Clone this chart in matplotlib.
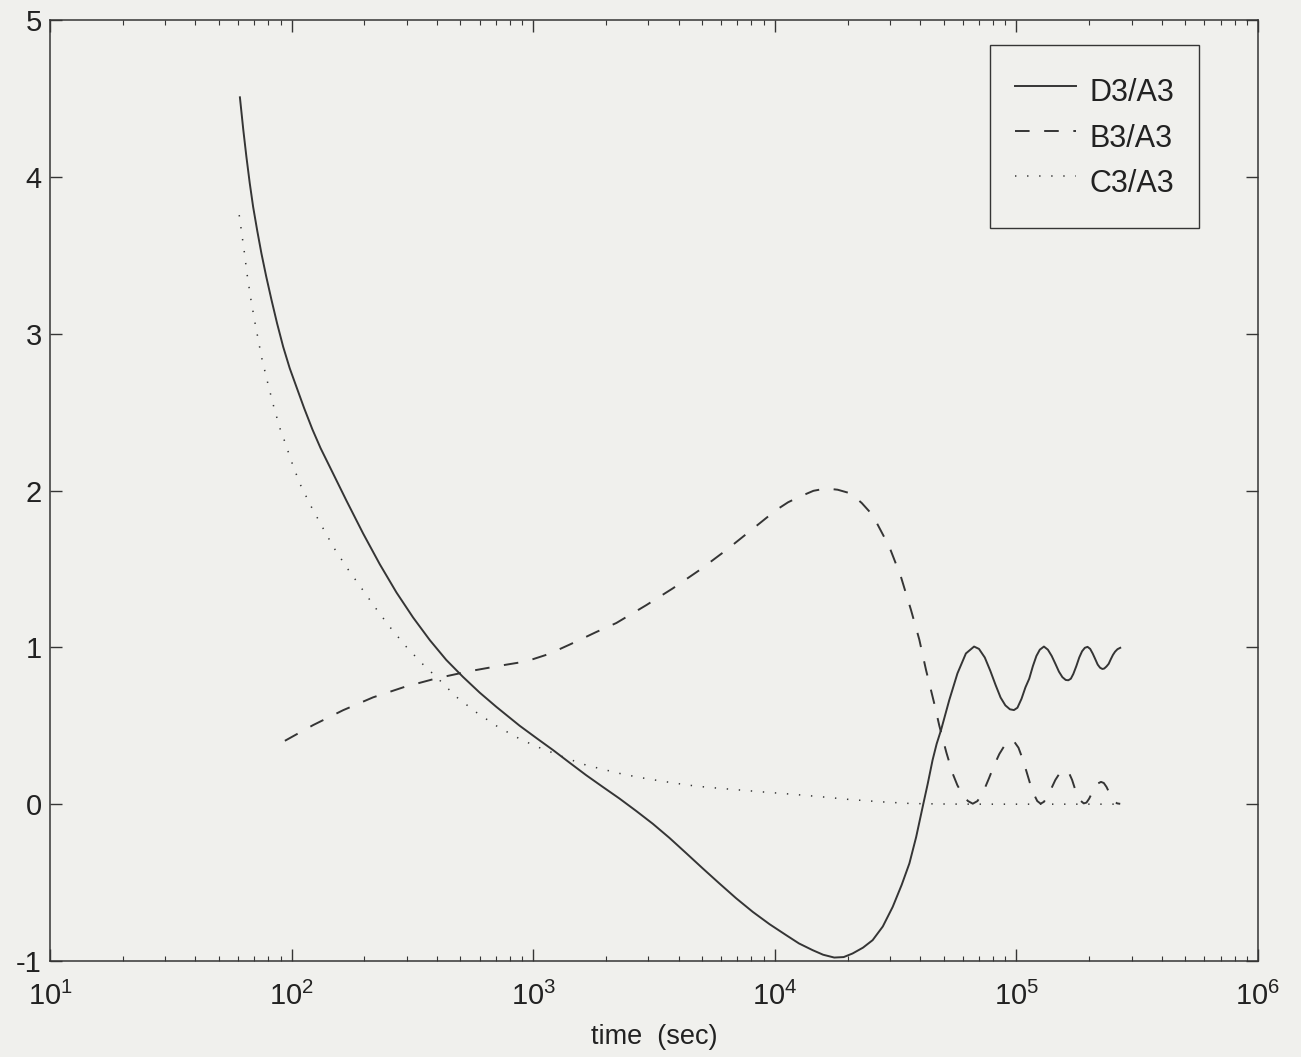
import matplotlib
matplotlib.use("Agg")
import matplotlib.pyplot as plt
from matplotlib.ticker import LogLocator, NullFormatter

plt.rcParams['font.family'] = ['Liberation Sans', 'DejaVu Sans']
plt.rcParams['mathtext.fontset'] = 'custom'
plt.rcParams['mathtext.rm'] = 'Liberation Sans'
plt.rcParams['mathtext.it'] = 'Liberation Sans:italic'
plt.rcParams['mathtext.bf'] = 'Liberation Sans:bold'
plt.rcParams['axes.unicode_minus'] = False

# D3/A3 (solid)
d3_t = [61.1, 63.1, 65.0, 67.1, 69.3, 72.1, 75.0, 78.5, 82.6, 87.1, 92.3, 98.2,
        104.7, 112.7, 121.9, 131.8, 143.9, 168.7, 197.7, 231.7, 271.6, 318.4,
        373.3, 436.5, 511.7, 599.8, 703.1, 879.0, 1045, 1208, 1413, 1656, 1941,
        2275, 2667, 3126, 3664, 4295, 5035, 5902, 6918, 8110, 9506, 11140,
        12590, 14350, 15850, 17620, 19280, 20990, 23170, 25410, 27990, 30760,
        33500, 36060, 38460, 40930, 42950, 44980, 46770, 48750, 52720, 57020,
        61800, 66800, 70000, 74000, 78000, 82000, 86000, 90000, 94000, 97700,
        101000, 105000, 109000, 113000, 117000, 121000, 125000, 130000, 135000,
        140000, 145000, 150000, 155000, 160000, 164000, 168000, 172000, 177000,
        182000, 187000, 192000, 197000, 202000, 207000, 212000, 217000, 222000,
        227000, 231000, 236000, 241000, 246000, 251000, 256000, 262000, 269000]
d3_y = [4.507, 4.300, 4.128, 3.960, 3.809, 3.655, 3.512, 3.365, 3.214, 3.065, 2.916, 2.780,
        2.661, 2.525, 2.390, 2.270, 2.151, 1.935, 1.726, 1.530, 1.350, 1.190,
        1.046, 0.920, 0.812, 0.712, 0.621, 0.500, 0.415, 0.345, 0.265, 0.185, 0.110,
        0.036, -0.043, -0.125, -0.215, -0.312, -0.410, -0.506, -0.600, -0.687, -0.765, -0.835,
        -0.888, -0.931, -0.960, -0.978, -0.975, -0.952, -0.915, -0.867, -0.780, -0.655,
        -0.515, -0.378, -0.210, -0.017, 0.130, 0.281, 0.385, 0.472, 0.663, 0.834,
        0.961, 1.005, 0.990, 0.935, 0.850, 0.760, 0.680, 0.630, 0.605, 0.600,
        0.615, 0.672, 0.745, 0.800, 0.880, 0.945, 0.985, 1.005, 0.985,
        0.945, 0.895, 0.845, 0.810, 0.792, 0.790, 0.800, 0.830, 0.880,
        0.935, 0.975, 0.997, 1.003, 0.990, 0.960, 0.925, 0.890, 0.870,
        0.862, 0.865, 0.878, 0.895, 0.925, 0.952, 0.972, 0.988, 0.997]

# B3/A3 (dashed)
b3_t = [93.8, 122.7, 163.3, 217.3, 293.8, 397.2, 545.8, 749.9, 891.3, 1000, 1122,
        1259, 1413, 1585, 1820, 2208, 2938, 3784, 4875, 6295, 7980, 10120, 11350,
        12650, 14450, 16290, 18200, 20650, 22910, 25410, 29790, 33270, 36640,
        39630, 42270, 45710, 47970, 51290, 54450, 57000, 60000, 63000, 66000,
        69000, 73000, 77000, 81000, 85000, 89000, 92000, 95000, 98000, 102000,
        106000, 110000, 114000, 118000, 122000, 126000, 130000, 135000, 140000,
        145000, 150000, 155000, 160000, 165000, 170000, 175000, 180000, 185000,
        190000, 195000, 200000, 206000, 212000, 218000, 224000, 230000, 236000,
        242000, 248000, 254000, 261000, 269000]
b3_y = [0.404, 0.504, 0.599, 0.681, 0.748, 0.802, 0.848, 0.886, 0.905, 0.925, 0.950,
        0.982, 1.017, 1.053, 1.097, 1.155, 1.269, 1.376, 1.492, 1.620, 1.747, 1.875, 1.925,
        1.960, 1.998, 2.013, 2.005, 1.981, 1.920, 1.843, 1.641, 1.450, 1.237,
        1.050, 0.855, 0.642, 0.500, 0.330, 0.196, 0.120, 0.060, 0.020, 0.003,
        0.020, 0.080, 0.165, 0.250, 0.320, 0.370, 0.398, 0.408, 0.398, 0.360,
        0.290, 0.210, 0.130, 0.065, 0.020, 0.003, 0.015, 0.055, 0.105,
        0.155, 0.190, 0.210, 0.217, 0.200, 0.155, 0.095, 0.050, 0.020,
        0.005, 0.010, 0.035, 0.075, 0.110, 0.133, 0.142, 0.135, 0.110,
        0.075, 0.045, 0.020, 0.005, 0.002]

# C3/A3 (dotted)
c3_t = [60.7, 63.7, 65.5, 67.8, 70.5, 75.2, 79.3, 83.8, 89.3, 92.9, 100, 108.1,
        120.0, 134.3, 149.6, 170.2, 194.1, 222.3, 254.7, 296.5, 346.7, 403.6,
        480.8, 582.1, 714.5, 873.0, 1030, 1208, 1413, 1656, 1995, 2350, 2818,
        3334, 3981, 4721, 5623, 6699, 8913, 11860, 15850, 20320, 27540, 36640,
        50000, 63100, 125900, 269200]
c3_y = [3.756, 3.522, 3.374, 3.221, 3.072, 2.846, 2.698, 2.551, 2.400, 2.328, 2.183, 2.045,
        1.903, 1.765, 1.635, 1.503, 1.380, 1.252, 1.131, 1.008, 0.897, 0.801,
        0.684, 0.585, 0.493, 0.419, 0.368, 0.327, 0.286, 0.249, 0.218, 0.191, 0.168,
        0.149, 0.131, 0.115, 0.104, 0.094, 0.078, 0.063, 0.046, 0.030, 0.015, 0.004,
        0.001, 0.0, 0.0, 0.0]

bg = '#f0f0ed'
ink = '#353535'

fig = plt.figure(figsize=(13.01, 10.57), dpi=100, facecolor=bg)
ax = fig.add_axes([50 / 1301, 1 - 961 / 1057, 1208 / 1301, 941 / 1057])
ax.set_facecolor(bg)

ax.plot(d3_t, d3_y, color=ink, lw=1.4, label='D3/A3')
ax.plot(b3_t, b3_y, color=ink, lw=1.4, dashes=(7.5, 7.5), label='B3/A3')
ax.plot(c3_t, c3_y, color=ink, lw=1.1, dashes=(0.9, 7.0), label='C3/A3')

ax.set_xscale('log')
ax.set_xlim(10, 1e6)
ax.set_ylim(-1, 5)
ax.set_yticks(range(-1, 6))
ax.xaxis.set_major_locator(LogLocator(base=10, numticks=10))
ax.xaxis.set_minor_locator(LogLocator(base=10, subs=range(2, 10), numticks=100))
ax.xaxis.set_minor_formatter(NullFormatter())

ax.tick_params(which='both', direction='in', top=True, right=True, colors=ink)
ax.tick_params(which='major', length=8.5, width=1.0, labelsize=21, labelcolor='#222222')
ax.tick_params(which='minor', length=3.8, width=0.8)
ax.tick_params(axis='x', which='major', pad=15)
ax.tick_params(axis='y', which='major', pad=6)
for s in ax.spines.values():
    s.set_color(ink)
    s.set_linewidth(1.1)

ax.set_xlabel('time  (sec)', fontsize=19.5, color='#222222', labelpad=9)

leg = ax.legend(loc='upper right', bbox_to_anchor=(0.951, 0.973), fontsize=22,
                frameon=True, fancybox=False, edgecolor=ink, facecolor=bg,
                framealpha=1, borderpad=0.8, handleheight=1.8, labelspacing=0.07,
                handlelength=2.0, handletextpad=0.45, borderaxespad=0)
leg.get_frame().set_linewidth(1.0)
for t in leg.get_texts():
    t.set_color('#222222')

fig.savefig('out.png', dpi=100, facecolor=bg)
